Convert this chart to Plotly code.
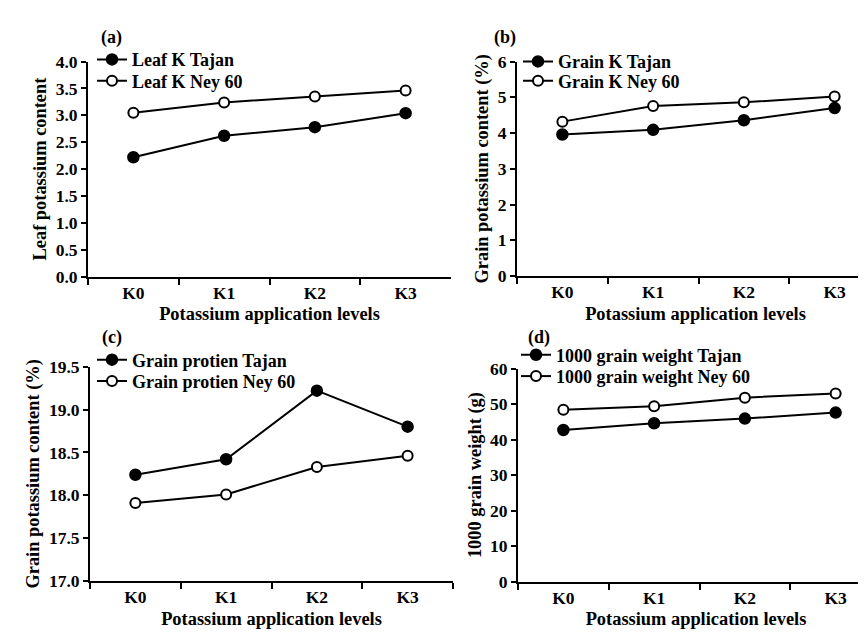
import plotly.graph_objects as go

levels = ["K0", "K1", "K2", "K3"]

leaf_tajan = [2.22, 2.62, 2.78, 3.04]
leaf_ney = [3.05, 3.24, 3.35, 3.46]

grainK_tajan = [3.96, 4.09, 4.36, 4.70]
grainK_ney = [4.32, 4.76, 4.86, 5.02]

protein_tajan = [18.24, 18.42, 19.22, 18.80]
protein_ney = [17.91, 18.01, 18.33, 18.46]

weight_tajan = [42.7, 44.6, 45.9, 47.6]
weight_ney = [48.4, 49.4, 51.8, 53.0]

W, H = 866, 632
FONT = "Liberation Serif"
WEIGHT = "bold"

panels = [
    # (tajan, ney, names, ytitle, yrange, dtick, fmt, xdom_px, ydom_px, label, label_pos, legend_x, legend_tops)
    (leaf_tajan, leaf_ney, ("Leaf K Tajan", "Leaf K Ney 60"), "Leaf potassium content",
     [0, 4.0], 0.5, ".1f", (80, 443), (45, 267), "(a)", (103, 20), 84, (24, 46)),
    (grainK_tajan, grainK_ney, ("Grain K Tajan", "Grain K Ney 60"), "Grain potassium content (%)",
     [0, 6], 1, "d", (509, 872), (45, 266.5), "(b)", (497, 20), 510, (26, 46)),
    (protein_tajan, protein_ney, ("Grain protien Tajan", "Grain protien Ney 60"), "Grain potassium content (%)",
     [17.0, 19.5], 0.5, ".1f", (82, 445), (360, 581.5), "(c)", (104, 330), 84, (334, 356)),
    (weight_tajan, weight_ney, ("1000 grain weight Tajan", "1000 grain weight Ney 60"), "1000 grain weight (g)",
     [0, 60], 10, "d", (510, 873), (362, 582), "(d)", (531, 330), 508, (329, 351)),
]


def f(size):
    return dict(family=FONT, size=size, color="black", weight=WEIGHT)


fig = go.Figure()
layout = dict(
    width=W, height=H,
    margin=dict(l=0, r=0, t=0, b=0),
    paper_bgcolor="white", plot_bgcolor="white",
    font=f(18),
    showlegend=True,
    annotations=[],
)

legend_count = 0


def legend_key(k):
    return "legend" if k == 1 else f"legend{k}"


for i, (taj, ney, names, ytitle, yr, dt, fmt, xd, yd, lab, lpos, legx, legtops) in enumerate(panels):
    n = i + 1
    xa = "x" if n == 1 else f"x{n}"
    ya = "y" if n == 1 else f"y{n}"
    series = [
        (taj, names[0], dict(symbol="circle", size=11, color="black", line=dict(color="black", width=1.5))),
        (ney, names[1], dict(symbol="circle", size=10, color="white", line=dict(color="black", width=2))),
    ]
    for j, (vals, name, marker) in enumerate(series):
        legend_count += 1
        lk = legend_key(legend_count)
        fig.add_trace(go.Scatter(
            x=levels, y=vals, name=name, mode="lines+markers", xaxis=xa, yaxis=ya,
            line=dict(color="black", width=2), marker=marker, legend=lk, showlegend=True,
        ))
        layout[lk] = dict(
            x=legx / W, y=1 - legtops[j] / H, xanchor="left", yanchor="top",
            xref="paper", yref="paper", visible=True,
            bgcolor="rgba(0,0,0,0)", borderwidth=0,
            font=f(18),
            itemwidth=30,
        )
    x0, x1 = xd
    right = min(x1, W)
    xmax = -0.5 + 4.0 * (right - x0) / (x1 - x0)
    axkey_x = "xaxis" if n == 1 else f"xaxis{n}"
    axkey_y = "yaxis" if n == 1 else f"yaxis{n}"
    layout[axkey_x] = dict(
        domain=[x0 / W, right / W], anchor=ya, type="category",
        categoryorder="array", categoryarray=levels,
        range=[-0.5, xmax], tickson="boundaries",
        showline=True, linecolor="black", linewidth=2,
        ticks="outside", ticklen=6, tickwidth=2, tickcolor="black",
        ticklabelstandoff=-1,
        showgrid=False, zeroline=False,
        tickfont=f(17.5),
        title=dict(text="Potassium application levels", font=f(18.4), standoff=6),
    )
    y0, y1 = yd
    layout[axkey_y] = dict(
        domain=[1 - y1 / H, 1 - y0 / H], anchor=xa, range=yr, dtick=dt, tick0=yr[0],
        tickformat=fmt,
        showline=True, linecolor="black", linewidth=2,
        ticks="outside", ticklen=5, tickwidth=2, tickcolor="black",
        showgrid=False, zeroline=False,
        tickfont=f(17.5),
        title=dict(text=ytitle, font=f(18.4), standoff=4),
    )
    layout["annotations"].append(dict(
        text=lab, x=lpos[0] / W, y=1 - lpos[1] / H, xref="paper", yref="paper",
        showarrow=False, xanchor="center", yanchor="middle",
        font=f(18),
    ))

fig.update_layout(**layout)
fig.write_html("out.html")
